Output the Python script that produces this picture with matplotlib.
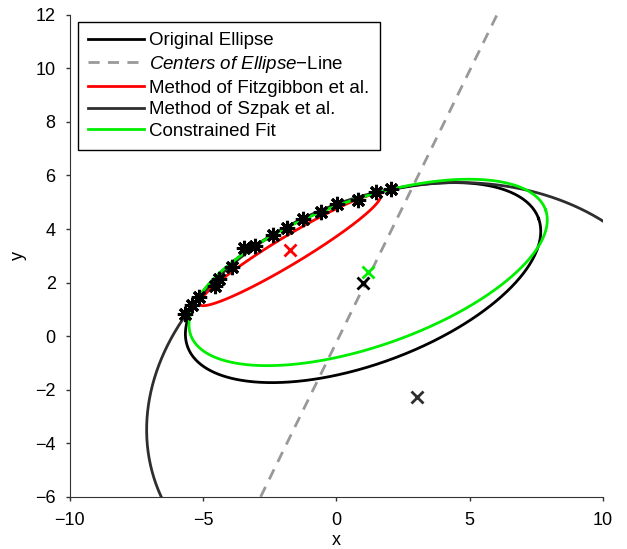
import numpy as np
import matplotlib
matplotlib.use("Agg")
import matplotlib.pyplot as plt

plt.rcParams['font.family'] = ['Liberation Sans', 'DejaVu Sans']
plt.rcParams['mathtext.fontset'] = 'custom'
plt.rcParams['mathtext.it'] = 'Liberation Sans:italic'
plt.rcParams['mathtext.rm'] = 'Liberation Sans'

# measured points on the arc
pts_x = [-5.68, -5.40, -5.15, -4.56, -4.40, -3.93, -3.46, -3.06, -2.39,
         -1.85, -1.25, -0.56, 0.04, 0.82, 1.48, 2.05]
pts_y = [0.83, 1.17, 1.48, 1.86, 2.14, 2.58, 3.31, 3.37, 3.76,
         4.03, 4.37, 4.62, 4.94, 5.09, 5.37, 5.50]

# ellipse parameters: center x, center y, semi-major, semi-minor, angle (deg)
original = (1.00, 2.00, 7.00, 3.05, 20.0)
fitzgibbon = (-1.74, 3.22, 3.95, 0.52, 31.0)
szpak = (3.01, -2.28, 10.3, 7.79, 16.4)
constrained = (1.19, 2.38, 7.05, 2.74, 19.3)

# line of possible centers
centers_line_x = [-2.84, 6.02]
centers_line_y = [-6.0, 12.0]


def ellipse_xy(cx, cy, a, b, ang, n=800):
    t = np.linspace(0, 2 * np.pi, n)
    th = np.deg2rad(ang)
    x = cx + a * np.cos(th) * np.cos(t) - b * np.sin(th) * np.sin(t)
    y = cy + a * np.sin(th) * np.cos(t) + b * np.cos(th) * np.sin(t)
    return x, y


fig = plt.figure(figsize=(6.27, 5.49), dpi=100)
ax = fig.add_axes([0.111, 0.095, 0.851, 0.878])

szpak_col = '#2e2e2e'
green = '#00ee00'

ax.plot(*ellipse_xy(*original), color='black', lw=2, label='Original Ellipse')
ax.plot(centers_line_x, centers_line_y, color='#999999', lw=2, ls=(0, (4, 3)),
        label=r'$\mathit{Centers\ of\ Ellipse}$$\mathrm{-}$Line')
ax.plot(*ellipse_xy(*fitzgibbon), color='red', lw=2, label='Method of Fitzgibbon et al.')
ax.plot(*ellipse_xy(*szpak), color=szpak_col, lw=2, label='Method of Szpak et al.')
ax.plot(*ellipse_xy(*constrained), color=green, lw=2, label='Constrained Fit')

# ellipse centers
ax.plot(original[0], original[1], 'x', color='black', ms=8, mew=2)
ax.plot(fitzgibbon[0], fitzgibbon[1], 'x', color='red', ms=8, mew=2)
ax.plot(szpak[0], szpak[1], 'x', color=szpak_col, ms=8, mew=2)
ax.plot(constrained[0], constrained[1], 'x', color=green, ms=8, mew=2)

ax.plot(pts_x, pts_y, ls='none', marker=(8, 2, 0), color='black', ms=11, mew=2.2)

ax.set_xlim(-10, 10)
ax.set_ylim(-6, 12)
ax.set_xticks([-10, -5, 0, 5, 10])
ax.set_yticks(np.arange(-6, 13, 2))
ax.set_xticklabels(['\u221210', '\u22125', '0', '5', '10'])
ax.set_yticklabels(['\u22126', '\u22124', '\u22122', '0', '2', '4', '6', '8', '10', '12'])
ax.tick_params(direction='out', length=3, labelsize=13, width=1, color='#333333')
ax.tick_params(axis='x', pad=8)
ax.tick_params(axis='y', pad=7)
ax.spines['top'].set_visible(False)
ax.spines['right'].set_visible(False)
for s in ('left', 'bottom'):
    ax.spines[s].set_color('#333333')
ax.set_xlabel('x', fontsize=13, labelpad=2)
ax.set_ylabel('y', fontsize=13, labelpad=6)

leg = ax.legend(loc='upper left', bbox_to_anchor=(0.015, 0.985), fontsize=13.5,
                handlelength=3.0, labelspacing=0.24, borderpad=0.55,
                handletextpad=0.28, borderaxespad=0, fancybox=False, framealpha=1)
leg.get_frame().set_edgecolor('black')
leg.get_frame().set_linewidth(1)

fig.savefig('out.png', dpi=100)
